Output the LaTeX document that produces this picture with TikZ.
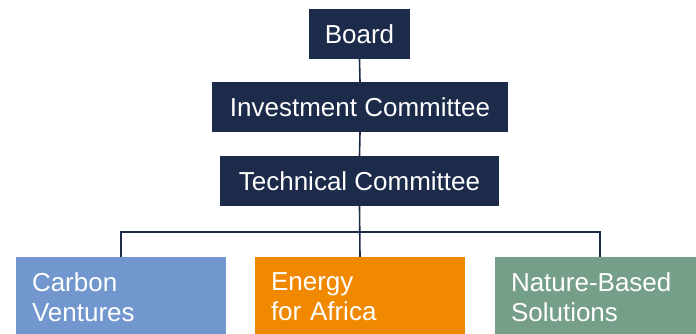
\documentclass[tikz,border=0pt]{standalone}
\usepackage{fontspec}
\setmainfont{Liberation Sans}
\definecolor{navy}{RGB}{28,43,74}
\definecolor{cblue}{RGB}{114,150,206}
\definecolor{corange}{RGB}{240,137,0}
\definecolor{cgreen}{RGB}{118,159,138}
\begin{document}
\begin{tikzpicture}[x=1pt,y=-1pt,
  topbox/.style={fill=navy, text=white, inner sep=0pt, font=\fontsize{26}{30}\selectfont},
  unitbox/.style={text=white, inner xsep=16pt, inner ysep=0pt, minimum width=210pt, minimum height=80pt,
     text width=178pt, align=left, font=\fontsize{26}{30}\selectfont},
  link/.style={draw=navy, line width=1.6pt}]
\useasboundingbox (0,0) rectangle (696,334);
\clip (0,0) rectangle (696,334);
\node[topbox, minimum width=101pt, minimum height=50pt] (board) at (359.5,34) {Board};
\node[topbox, minimum width=296pt, minimum height=50pt] (invest) at (360,107) {Investment Committee};
\node[topbox, minimum width=279pt, minimum height=50pt] (tech) at (359.5,181) {Technical Committee};
\node[unitbox, fill=cblue] (carbon) at (121,297) {Carbon\\Ventures};
\node[unitbox, fill=corange] (energy) at (360,297) {Energy\\for Africa};
\node[unitbox, fill=cgreen] (nature) at (600,297) {Nature-Based\\Solutions};
\draw[link] (board.south) -- (invest.north);
\draw[link] (invest.south) -- (tech.north);
\draw[link] (tech.south) -- (energy.north);
\draw[link] (carbon.north) -- ++(0,-25) -| (nature.north);
\end{tikzpicture}
\end{document}
